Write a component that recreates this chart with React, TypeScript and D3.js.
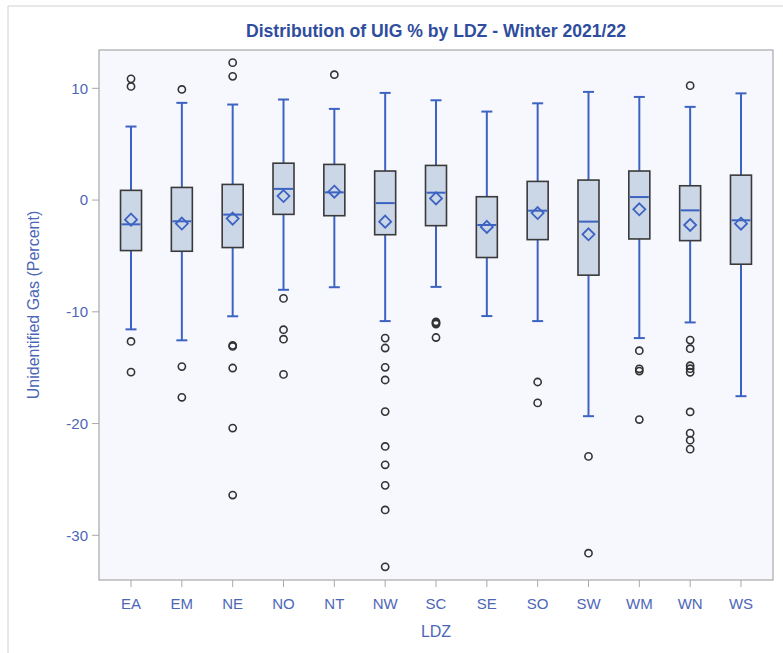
import React from "react";
import * as d3 from "d3";

const categories = ["EA", "EM", "NE", "NO", "NT", "NW", "SC", "SE", "SO", "SW", "WM", "WN", "WS"];
const whiskerHigh = [6.58, 8.7, 8.55, 9.0, 8.16, 9.59, 8.93, 7.92, 8.66, 9.68, 9.23, 8.34, 9.55];
const q3 = [0.87, 1.13, 1.4, 3.3, 3.19, 2.6, 3.1, 0.3, 1.67, 1.79, 2.6, 1.28, 2.23];
const medians = [-2.17, -1.9, -1.3, 1.0, 0.69, -0.27, 0.66, -2.23, -0.95, -1.93, 0.27, -0.92, -1.81];
const means = [-1.75, -2.1, -1.66, 0.36, 0.75, -1.93, 0.15, -2.4, -1.16, -3.06, -0.83, -2.23, -2.11];
const q1 = [-4.52, -4.58, -4.25, -1.28, -1.4, -3.1, -2.29, -5.14, -3.54, -6.72, -3.48, -3.63, -5.74];
const whiskerLow = [-11.57, -12.55, -10.4, -8.03, -7.8, -10.83, -7.77, -10.38, -10.83, -19.34, -12.35, -10.95, -17.55];
const outliers: number[][] = [
  [10.85, 10.17, -12.65, -15.4],
  [9.9, -14.9, -17.65],
  [12.3, 11.07, -13.0, -13.1, -15.03, -20.4, -26.4],
  [-8.8, -11.6, -12.45, -15.6],
  [11.22],
  [-12.35, -13.24, -14.97, -16.1, -18.93, -22.05, -23.69, -25.53, -27.73, -32.82],
  [-10.9, -11.0, -11.1, -12.3],
  [],
  [-16.28, -18.15],
  [-22.94, -31.6],
  [-13.48, -15.1, -15.3, -19.64],
  [10.24, -12.53, -13.3, -14.82, -15.09, -15.41, -18.96, -20.86, -21.49, -22.29],
  [],
];
const yTicks = [10, 0, -10, -20, -30];

const title = "Distribution of UIG % by LDZ - Winter 2021/22";
const xTitle = "LDZ";
const yTitle = "Unidentified Gas (Percent)";

export default function App() {
  const W = 783;
  const H = 653;
  const left = 99, right = 773, top = 50, bottom = 580;
  const x = d3.scalePoint<string>().domain(categories).range([left, right]).padding(0.63);
  const y = d3.scaleLinear().domain([-34.0, 13.43]).range([bottom, top]);
  const boxW = 21;
  const capW = 11;
  const dm = 6;
  const blue = "#3d63c2";
  const labelColor = "#4d66b8";
  const font = "'Liberation Sans', Arial, sans-serif";

  return (
    <svg width={W} height={H} style={{ position: "absolute", left: 0, top: 0, background: "#fff" }}>
      <line x1={8} y1={6} x2={W} y2={6} stroke="#d0d0d0" strokeWidth={1} />
      <line x1={8} y1={6} x2={8} y2={H} stroke="#d0d0d0" strokeWidth={1} />
      <text x={(left + right) / 2} y={37} textAnchor="middle" fontFamily={font} fontWeight="bold" fontSize={18} textLength={380} lengthAdjust="spacingAndGlyphs" fill="#2f4d9e">{title}</text>
      <rect x={left} y={top} width={right - left} height={bottom - top} fill="#f7f8fe" stroke="#a8a8a8" strokeWidth={1.2} />
      {yTicks.map((t) => (
        <g key={t}>
          <line x1={left - 7} x2={left} y1={y(t)} y2={y(t)} stroke="#a8a8a8" />
          <text x={left - 11} y={y(t)} dy="0.36em" textAnchor="end" fontFamily={font} fontSize={15} fill={labelColor}>{t}</text>
        </g>
      ))}
      {categories.map((c) => (
        <g key={c}>
          <line x1={x(c)} x2={x(c)} y1={bottom} y2={bottom + 7} stroke="#a8a8a8" />
          <text x={x(c)} y={bottom + 29} textAnchor="middle" fontFamily={font} fontSize={15} fill={labelColor}>{c}</text>
        </g>
      ))}
      <text x={(left + right) / 2} y={bottom + 57} textAnchor="middle" fontFamily={font} fontSize={16} fill={labelColor}>{xTitle}</text>
      <text transform={`translate(39, ${305}) rotate(-90)`} textAnchor="middle" fontFamily={font} fontSize={16} fill={labelColor}>{yTitle}</text>
      {categories.map((c, i) => {
        const cx = x(c) as number;
        return (
          <g key={c}>
            <line x1={cx} x2={cx} y1={y(q3[i])} y2={y(whiskerHigh[i])} stroke={blue} strokeWidth={2} />
            <line x1={cx} x2={cx} y1={y(q1[i])} y2={y(whiskerLow[i])} stroke={blue} strokeWidth={2} />
            <line x1={cx - capW / 2} x2={cx + capW / 2} y1={y(whiskerHigh[i])} y2={y(whiskerHigh[i])} stroke={blue} strokeWidth={2} />
            <line x1={cx - capW / 2} x2={cx + capW / 2} y1={y(whiskerLow[i])} y2={y(whiskerLow[i])} stroke={blue} strokeWidth={2} />
            <rect x={cx - boxW / 2} y={y(q3[i])} width={boxW} height={y(q1[i]) - y(q3[i])} fill="#cbd6e6" stroke="#3a3a3a" strokeWidth={1.6} />
            <line x1={cx - boxW / 2 + 1} x2={cx + boxW / 2 - 1} y1={y(medians[i])} y2={y(medians[i])} stroke={blue} strokeWidth={2} />
            <path d={`M${cx},${y(means[i]) - dm}L${cx + dm},${y(means[i])}L${cx},${y(means[i]) + dm}L${cx - dm},${y(means[i])}Z`} fill="none" stroke={blue} strokeWidth={1.8} />
            {outliers[i].map((v, j) => (
              <circle key={j} cx={cx} cy={y(v)} r={3.6} fill="none" stroke="#333" strokeWidth={1.6} />
            ))}
          </g>
        );
      })}
    </svg>
  );
}
